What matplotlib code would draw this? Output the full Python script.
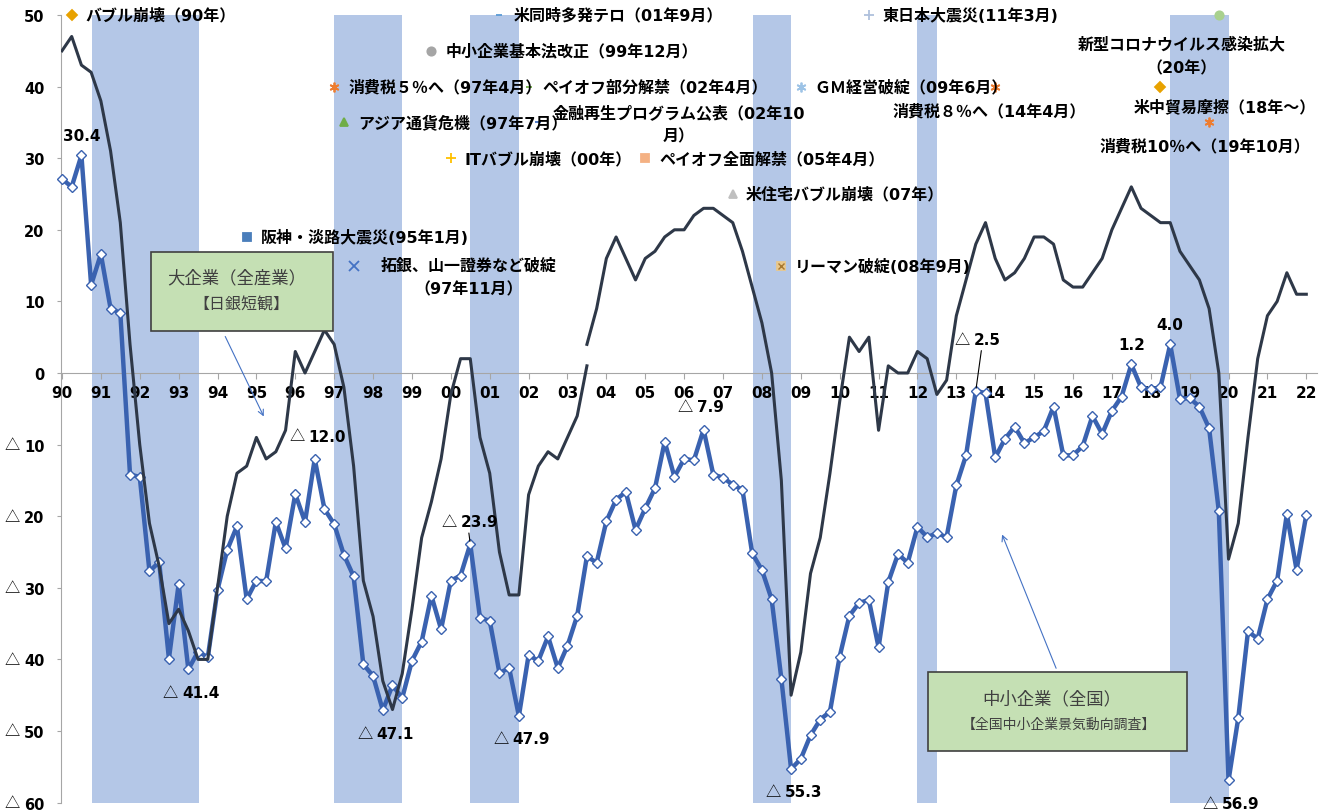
import matplotlib.pyplot as plt
import matplotlib.transforms as mtransforms
from matplotlib.patches import Rectangle

plt.rcParams['font.family'] = ['DejaVu Sans', 'Noto Sans CJK JP']
TRI_FONT = ['Noto Sans CJK JP', 'DejaVu Sans']

# ---- data (quarterly, index 0 = first quarter shown under "90") ----
years = list(range(1990, 2023))
year_labels = [f"{y % 100:02d}" for y in years]

# 中小企業（全国）業況判断DI
small_di = [
    27.1, 26.0, 30.4, 12.3, 16.6, 9.0, 8.4, -14.2, -14.5, -27.7,
    -26.4, -39.9, -29.5, -41.4, -38.9, -39.7, -30.3, -24.7, -21.4, -31.6,
    -29.0, -29.1, -20.8, -24.5, -16.9, -20.8, -12.0, -19.0, -21.1, -25.4,
    -28.4, -40.7, -42.3, -47.1, -43.6, -45.4, -40.2, -37.5, -31.1, -35.8,
    -29.0, -28.3, -23.9, -34.2, -34.6, -41.9, -41.2, -47.9, -39.4, -40.2,
    -36.8, -41.2, -38.1, -33.9, -25.6, -26.5, -20.7, -17.7, -16.6, -21.9,
    -18.9, -16.1, -9.6, -14.5, -12.0, -12.2, -7.9, -14.2, -14.6, -15.6,
    -16.3, -25.2, -27.5, -31.6, -42.7, -55.3, -53.9, -50.6, -48.4, -47.3,
    -39.6, -33.9, -32.1, -31.7, -38.3, -29.2, -25.3, -26.5, -21.5, -22.9,
    -22.4, -22.9, -15.7, -11.5, -2.5, -2.8, -11.8, -9.2, -7.5, -9.8,
    -9.0, -8.1, -4.7, -11.5, -11.5, -10.2, -6.0, -8.5, -5.3, -3.3,
    1.2, -2.0, -2.3, -2.0, 4.0, -3.6, -3.5, -4.7, -7.7, -19.3,
    -56.9, -48.2, -36.1, -37.1, -31.6, -29.0, -19.7, -27.5, -19.8,
]

# 大企業（全産業）日銀短観 — old series, then revised series from 03
large_old = [
    45, 47, 43, 42, 38, 31, 21, 4, -10, -21,
    -27, -35, -33, -36, -40, -40, -30, -20, -14, -13,
    -9, -12, -11, -8, 3, 0, 3, 6, 4, -2,
    -13, -29, -34, -43, -47, -42, -33, -23, -18, -12,
    -3, 2, 2, -9, -14, -25, -31, -31, -17, -13,
    -11, -12, -9, -6, 1,
]
new_start = 54
large_new = [
    4, 9, 16, 19, 16, 13, 16, 17, 19, 20,
    20, 22, 23, 23, 22, 21, 17, 12, 7, 0,
    -15, -45, -39, -28, -23, -14, -4, 5, 3, 5,
    -8, 1, 0, 0, 3, 2, -3, -1, 8, 13,
    18, 21, 16, 13, 14, 16, 19, 19, 18, 13,
    12, 12, 14, 16, 20, 23, 26, 23, 22, 21,
    21, 17, 15, 13, 9, 0, -26, -21, -9, 2,
    8, 10, 14, 11, 11,
]

# recession periods (quarter index)
recessions = [(3.05, 14.1), (28.0, 35.0), (42.0, 47.0), (71.1, 75.0), (88.0, 90.05), (114.0, 120.0)]

# labelled extremes of the small-business series
peak_idx = [2, 13, 26, 33, 42, 47, 66, 75, 94, 110, 114, 120]

# events: text, quarter index, display level
event_text = [
    "バブル崩壊（90年）", "米同時多発テロ（01年9月）", "東日本大震災(11年3月)",
    "新型コロナウイルス感染拡大\n（20年）", "中小企業基本法改正（99年12月）",
    "消費税５％へ（97年4月）", "ペイオフ部分解禁（02年4月）", "ＧＭ経営破綻（09年6月）",
    "消費税８％へ（14年4月）", "アジア通貨危機（97年7月）",
    "金融再生プログラム公表（02年10\n月）", "ITバブル崩壊（00年）",
    "ペイオフ全面解禁（05年4月）", "米住宅バブル崩壊（07年）",
    "阪神・淡路大震災(95年1月)", "拓銀、山一證券など破綻\n（97年11月）",
    "リーマン破綻(08年9月)", "米中貿易摩擦（18年～）", "消費税10％へ（19年10月）",
]
event_q = [1, 45, 83, 119, 38, 28, 48, 76, 96, 29, 49, 40, 60, 69, 19, 30, 74, 113, 118]
event_lv = [50, 50, 50, 50, 45, 40, 40, 40, 40, 35, 35, 30, 30, 25, 19, 15, 15, 40, 35]

star = (6, 2, 0)
event_marker = ['D', '_', '+', 'o', 'o', star, '_', star, star, '^',
                '_', '+', 's', '^', 's', 'x', 's', 'D', star]
event_color = ['#E8A200', '#5B9BD5', '#AFC0DC', '#A9D18E', '#A5A5A5', '#ED7D31', '#70AD47',
               '#9DC3E6', '#ED7D31', '#70AD47', '#4472C4', '#FFC000', '#F4B183', '#BFBFBF',
               '#4A7EBB', '#4472C4', '#E9C88C', '#E8A200', '#ED7D31']
# text offset (points) and alignment for each event label
event_off = [(10, 0)] * 3 + [(-27, -29)] + [(10, 0)] * 4 + [(-4, -17), (10, 0), (101, -1),
             (10, 0), (10, 0), (9, 0), (10, 0), (83, -8), (10, 0), (46, -14), (-3, -17)]
event_ha = ['left'] * 3 + ['center'] + ['left'] * 4 + ['center', 'left', 'center',
            'left', 'left', 'left', 'left', 'center', 'left', 'center', 'center']

# ---- figure ----
fig = plt.figure(figsize=(13.28, 8.12), dpi=100)
ax = fig.add_axes([61 / 1328, 1 - 803.6 / 812, 1256 / 1328, 787.6 / 812])

for s, e in recessions:
    ax.axvspan(s, e, color='#B4C7E7', lw=0, zorder=0)

qs = list(range(len(small_di)))
ax.plot(qs, small_di, color='#3A62B0', lw=3.2, marker='D', ms=5,
        mfc='white', mec='#3A62B0', mew=1, zorder=3, clip_on=False)
ax.plot(range(len(large_old)), large_old, color='#2E3848', lw=2.2, zorder=4)
ax.plot(range(new_start, new_start + len(large_new)), large_new, color='#2E3848', lw=2.2, zorder=4)


def value_label(i, v, dx, dy, leader=False):
    """Number in DejaVu bold, with a full-width △ in front for negatives."""
    if v > 0:
        ax.annotate(f"{v:.1f}", (i, v), xytext=(dx, dy), textcoords='offset points',
                    ha='center', va='center', fontsize=11, fontweight='bold', zorder=6)
        return
    ax.annotate(f"{-v:.1f}", (i, v), xytext=(dx - 4.5, dy), textcoords='offset points',
                ha='left', va='center', fontsize=11, fontweight='bold', zorder=6)
    ax.annotate("△", (i, v), xytext=(dx - 7.5, dy), textcoords='offset points',
                ha='right', va='center', fontsize=11, family=TRI_FONT, zorder=6)
    if leader:
        ax.annotate("", (i, v), xytext=(dx + 1, dy - 8), textcoords='offset points',
                    arrowprops=dict(arrowstyle='-', color='black', lw=0.8, shrinkA=0, shrinkB=2))


for i in peak_idx:
    v = small_di[i]
    if i == 42:
        value_label(i, v, -2, 16, leader=True)
    elif i == 94:
        value_label(i, v, 3, 37, leader=True)
    elif v > 0:
        value_label(i, v, 0, 14)
    else:
        value_label(i, v, 0, 16.5 if i in (26, 66) else -16.5)

# events
for t, q, lv, m, c, off, ha in zip(event_text, event_q, event_lv, event_marker,
                                   event_color, event_off, event_ha):
    ms = 7 if m in ('+', 'x', star) else (5 if m in ('D', '_') else 6)
    ax.plot([q], [lv], ls='none', marker=m, ms=ms, color=c, mec=c, mew=1.3, zorder=5, clip_on=False)
    if t.startswith("リーマン"):
        ax.plot([q], [lv], ls='none', marker='x', ms=5, color='#A87830', mew=1, zorder=6)
    ax.annotate(t, (q, lv), xytext=off, textcoords='offset points', ha=ha, va='center',
                multialignment='center', fontsize=11.5, fontweight='bold', linespacing=1.7, zorder=6)

# text boxes
ax.add_patch(Rectangle((9.12, 5.91), 18.78, 10.95, facecolor='#C5E0B4', edgecolor='#404040',
                       lw=1.2, zorder=6))
ax.text(18.0, 13.3, "大企業（全産業）", ha='center', va='center', fontsize=12.5, color='#404040', zorder=7)
ax.text(18.5, 9.6, "【日銀短観】", ha='center', va='center', fontsize=11.5, color='#404040', zorder=7)
ax.annotate("", xy=(20.88, -6.42), xytext=(16.67, 5.45),
            arrowprops=dict(arrowstyle='->', color='#4472C4', lw=0.8), zorder=7)

ax.add_patch(Rectangle((89.06, -52.75), 26.65, 11.05, facecolor='#C5E0B4', edgecolor='#404040',
                       lw=1.2, zorder=6))
ax.text(101.85, -45.5, "中小企業（全国）", ha='center', va='center', fontsize=12.5, color='#404040', zorder=7)
ax.text(102.5, -49.0, "【全国中小企業景気動向調査】", ha='center', va='center', fontsize=10,
        color='#404040', zorder=7)
ax.annotate("", xy=(96.6, -22.2), xytext=(102.37, -41.6),
            arrowprops=dict(arrowstyle='->', color='#4472C4', lw=0.8), zorder=7)

# axes styling
ax.set_xlim(-0.1, 129.1)
ax.set_ylim(-60, 50)
for side in ('top', 'right'):
    ax.spines[side].set_visible(False)
ax.spines['bottom'].set_position(('data', 0))
ax.spines['bottom'].set_color('#A6A6A6')
ax.spines['left'].set_color('#A6A6A6')
ax.spines['bottom'].set_zorder(2)

ax.set_xticks(range(0, 4 * len(years), 4))
ax.set_xticklabels(year_labels, fontsize=11, fontweight='bold')
yt = list(range(-60, 51, 10))
ax.set_yticks(yt)
ax.set_yticklabels([str(abs(v)) for v in yt], fontsize=10.5, fontweight='bold')
ax.tick_params(axis='x', direction='out', length=4, color='#A6A6A6', pad=5)
ax.tick_params(axis='y', direction='out', length=3, color='#A6A6A6', pad=9)
trans = mtransforms.blended_transform_factory(ax.transAxes, ax.transData)
for v in yt:
    if v < 0:
        ax.text(-56 / 1256, v, "△", transform=trans, ha='left', va='center',
                fontsize=11, family=TRI_FONT, clip_on=False)

fig.savefig('out.png', dpi=100)
